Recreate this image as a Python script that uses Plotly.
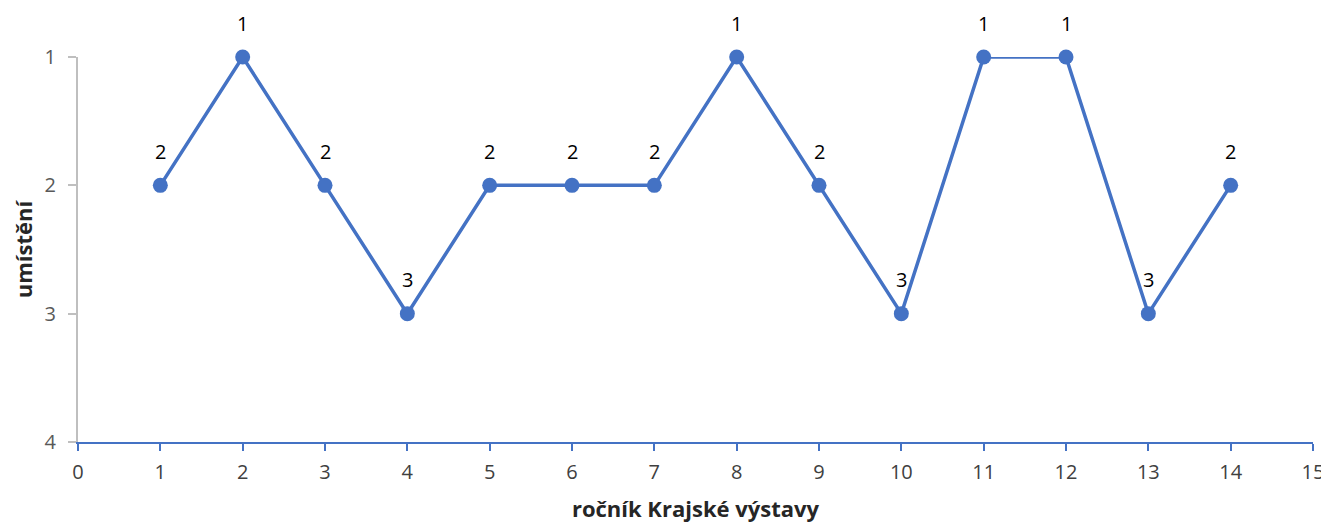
import plotly.graph_objects as go

rocnik = [1, 2, 3, 4, 5, 6, 7, 8, 9, 10, 11, 12, 13, 14]
umisteni = [2, 1, 2, 3, 2, 2, 2, 1, 2, 3, 1, 1, 3, 2]
x_ticks = list(range(0, 16))
y_ticks = [1, 2, 3, 4]

blue = "#4472C4"
font_family = "'Open Sans', sans-serif"

fig = go.Figure()
fig.add_trace(go.Scatter(
    x=rocnik, y=umisteni,
    mode="lines+markers",
    line=dict(color=blue, width=3.5),
    marker=dict(color=blue, size=15),
    cliponaxis=False,
    showlegend=False,
))
for xv, yv in zip(rocnik, umisteni):
    fig.add_annotation(
        x=xv, y=yv, text=str(yv), showarrow=False,
        yshift=34, font=dict(size=20, color="#000000", family=font_family),
    )

# page body has an 8px margin, compensate so the plot area sits where the reference has it
fig.update_layout(
    width=1329, height=524,
    margin=dict(l=70, r=24, t=49, b=90),
    paper_bgcolor="white", plot_bgcolor="white",
    font=dict(family=font_family),
)
fig.update_xaxes(
    range=[0, 15], tickmode="array", tickvals=x_ticks, automargin=False,
    showgrid=False, zeroline=False,
    showline=True, linecolor=blue, linewidth=2,
    ticks="outside", tickcolor=blue, ticklen=7, tickwidth=2,
    ticklabelstandoff=4,
    tickfont=dict(size=20, color="#404040"),
    title=dict(text="<b>ročník Krajské výstavy</b>", font=dict(size=22, color="#262626"), standoff=18),
)
fig.update_yaxes(
    range=[4, 1], tickmode="array", tickvals=y_ticks, automargin=False,
    showgrid=False, zeroline=False,
    showline=True, linecolor="#BFBFBF", linewidth=2,
    ticks="outside", tickcolor="#BFBFBF", ticklen=8, tickwidth=2,
    ticklabelstandoff=8,
    tickfont=dict(size=20, color="#595959"),
    title=dict(text="<b>umístění</b>", font=dict(size=22, color="#262626"), standoff=18),
)

fig.write_html("out.html")
